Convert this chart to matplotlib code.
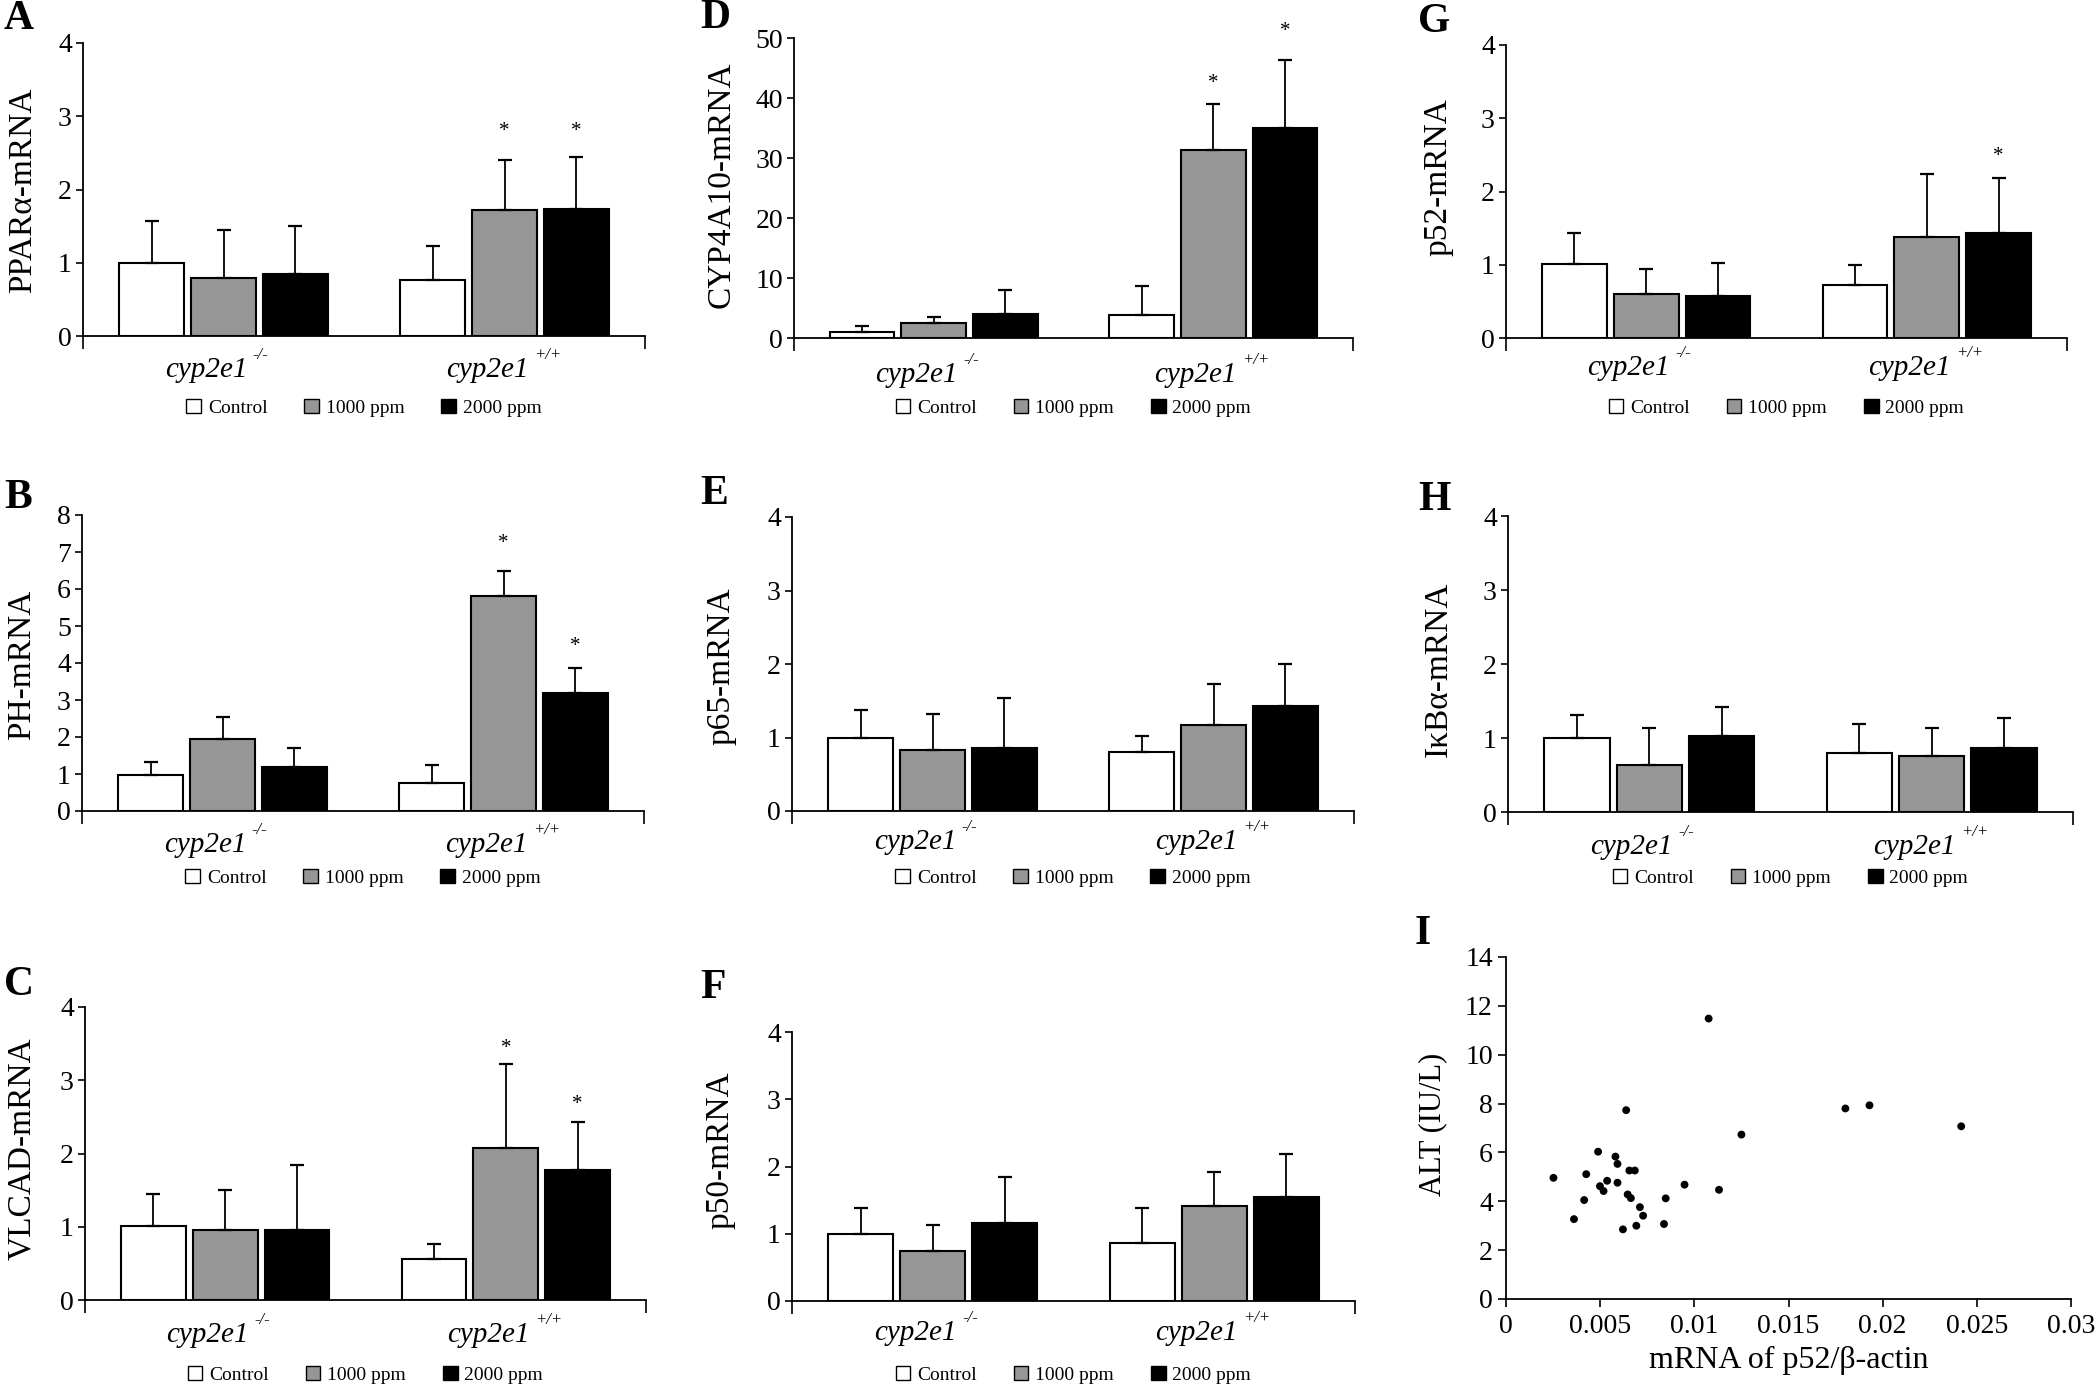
import numpy as np
import matplotlib.pyplot as plt
from matplotlib.patches import Patch

plt.rcParams['font.family'] = ['Liberation Serif', 'DejaVu Serif']

W, H = 2100, 1388

# ---- data (order: cyp2e1-/- Control, 1000, 2000, cyp2e1+/+ Control, 1000, 2000) ----
genotypes = ['-/-', '+/+']
treatments = ['Control', '1000 ppm', '2000 ppm']
bar_colors = ['white', '#969696', 'black']

ppara_mean = [1.00, 0.79, 0.84, 0.76, 1.72, 1.74]
ppara_top = [1.57, 1.45, 1.50, 1.23, 2.40, 2.44]
ppara_star = [None, None, None, None, 2.79, 2.79]

ph_mean = [0.98, 1.95, 1.18, 0.75, 5.81, 3.20]
ph_top = [1.32, 2.53, 1.71, 1.23, 6.50, 3.86]
ph_star = [None, None, None, None, 7.22, 4.44]

vlcad_mean = [1.01, 0.95, 0.95, 0.56, 2.08, 1.77]
vlcad_top = [1.45, 1.50, 1.84, 0.76, 3.22, 2.43]
vlcad_star = [None, None, None, None, 3.43, 2.67]

cyp4a10_mean = [1.00, 2.56, 4.06, 3.79, 31.35, 35.08]
cyp4a10_top = [1.95, 3.45, 7.96, 8.63, 38.98, 46.30]
cyp4a10_star = [None, None, None, None, 42.5, 51.0]

p65_mean = [1.00, 0.83, 0.86, 0.80, 1.17, 1.43]
p65_top = [1.38, 1.32, 1.54, 1.02, 1.73, 2.00]
p65_star = [None] * 6

p50_mean = [1.00, 0.75, 1.16, 0.86, 1.42, 1.55]
p50_top = [1.38, 1.13, 1.84, 1.39, 1.92, 2.18]
p50_star = [None] * 6

p52_mean = [1.01, 0.60, 0.58, 0.72, 1.38, 1.44]
p52_top = [1.43, 0.94, 1.02, 0.99, 2.24, 2.19]
p52_star = [None, None, None, None, None, 2.48]

ikba_mean = [1.00, 0.64, 1.03, 0.80, 0.76, 0.86]
ikba_top = [1.31, 1.14, 1.42, 1.19, 1.14, 1.27]
ikba_star = [None] * 6

# panel I scatter
p52_ratio = [0.00252, 0.00361, 0.00415, 0.00426, 0.00489, 0.00499, 0.00518, 0.00537,
             0.00581, 0.00592, 0.00592, 0.00638, 0.00621, 0.00646, 0.00655, 0.00663,
             0.00684, 0.00692, 0.00711, 0.00728, 0.00839, 0.00848, 0.00948, 0.01076,
             0.01131, 0.01250, 0.01802, 0.01930, 0.02417]
alt_iu = [4.96, 3.27, 4.05, 5.11, 6.03, 4.62, 4.42, 4.84,
          5.83, 5.53, 4.76, 7.73, 2.85, 4.28, 5.26, 4.13,
          5.26, 3.00, 3.76, 3.41, 3.07, 4.12, 4.68, 11.48,
          4.47, 6.73, 7.80, 7.93, 7.07]

# ---- layout helpers (pixel boxes: left, top, right, bottom) ----
fig = plt.figure(figsize=(W / 100, H / 100), dpi=100)


def px_axes(l, t, r, b):
    return fig.add_axes([l / W, 1 - b / H, (r - l) / W, (b - t) / H])


def px_text(x, y, s, **kw):
    fig.text(x / W, 1 - y / H, s, **kw)


def bar_panel(box, letter, letter_xy, ylabel, ylabel_xy, ymax, ystep,
              mean, top, star, cat_y, leg_y):
    l, t, r, b = box
    ax = px_axes(l, t, r, b)
    mean = np.array(mean).reshape(2, 3)
    top = np.array(top).reshape(2, 3)
    for j in range(3):
        xs = np.arange(2) + 0.5 + (j - 1) * 0.256
        ax.bar(xs, mean[:, j], width=0.231, color=bar_colors[j],
               edgecolor='black', linewidth=1.5, zorder=2)
        ax.errorbar(xs, mean[:, j], yerr=[np.zeros(2), top[:, j] - mean[:, j]],
                    fmt='none', ecolor='black', elinewidth=1.3, capsize=5,
                    capthick=1.6, zorder=3)
    for k, s in enumerate(star):
        if s is not None:
            g, j = divmod(k, 3)
            ax.text(g + 0.5 + (j - 1) * 0.256, s, '*', ha='center', va='center',
                    fontsize=15, clip_on=False)
    ax.set_xlim(0, 2)
    ax.set_ylim(0, ymax)
    ax.set_yticks(np.arange(0, ymax + ystep / 2, ystep))
    ax.set_xticks([0, 2])
    ax.set_xticklabels(['', ''])
    ax.tick_params(axis='y', direction='out', length=5, width=1.2, labelsize=20, pad=3)
    ax.tick_params(axis='x', direction='out', length=9, width=1.2)
    for sp in ['top', 'right']:
        ax.spines[sp].set_visible(False)
    for sp in ['left', 'bottom']:
        ax.spines[sp].set_linewidth(1.3)

    # genotype labels
    dy = (cat_y - b) * 0.72
    for g, gt in enumerate(genotypes):
        ax.annotate('cyp2e1', xy=(g + 0.5, 0), xycoords=('data', 'axes fraction'),
                    xytext=(17, -dy), textcoords='offset points', ha='right',
                    va='center', fontsize=21, style='italic', annotation_clip=False)
        ax.annotate(gt, xy=(g + 0.5, 0), xycoords=('data', 'axes fraction'),
                    xytext=(21, -dy + 11), textcoords='offset points', ha='left',
                    va='center', fontsize=12, style='italic', annotation_clip=False)

    handles = [Patch(facecolor=c, edgecolor='black', linewidth=1.0) for c in bar_colors]
    ax.legend(handles, treatments, loc='center', ncol=3, frameon=False,
              bbox_to_anchor=(0.5, 1 - (leg_y - t) / (b - t)), fontsize=14,
              handlelength=0.75, handleheight=0.75, handletextpad=0.35,
              columnspacing=1.9, borderpad=0, borderaxespad=0)

    px_text(letter_xy[0], letter_xy[1], letter, fontsize=30, fontweight='bold',
            ha='left', va='center')
    px_text(ylabel_xy[0], ylabel_xy[1], ylabel, fontsize=24, rotation=90,
            ha='center', va='center')
    return ax


bar_panel((83, 43, 645, 336), 'A', (4, 19), 'PPARα-mRNA', (23, 190), 4, 1,
          ppara_mean, ppara_top, ppara_star, 370, 408)
bar_panel((82, 515, 644, 811), 'B', (4, 498), 'PH-mRNA', (22, 665), 8, 1,
          ph_mean, ph_top, ph_star, 845, 878)
bar_panel((85, 1007, 646, 1300), 'C', (4, 985), 'VLCAD-mRNA', (22, 1149), 4, 1,
          vlcad_mean, vlcad_top, vlcad_star, 1335, 1375)
bar_panel((794, 38, 1353, 338), 'D', (700, 18), 'CYP4A10-mRNA', (721, 185), 50, 10,
          cyp4a10_mean, cyp4a10_top, cyp4a10_star, 375, 408)
bar_panel((792, 517, 1354, 811), 'E', (700, 494), 'p65-mRNA', (721, 666), 4, 1,
          p65_mean, p65_top, p65_star, 842, 878)
bar_panel((792, 1032, 1355, 1301), 'F', (700, 988), 'p50-mRNA', (720, 1150), 4, 1,
          p50_mean, p50_top, p50_star, 1333, 1375)
bar_panel((1506, 45, 2067, 338), 'G', (1418, 22), 'p52-mRNA', (1438, 177), 4, 1,
          p52_mean, p52_top, p52_star, 368, 408)
bar_panel((1508, 516, 2073, 812), 'H', (1418, 500), 'IκBα-mRNA', (1438, 669), 4, 1,
          ikba_mean, ikba_top, ikba_star, 847, 878)

# ---- panel I: scatter ----
axi = px_axes(1506, 957, 2071, 1299)
axi.scatter(p52_ratio, alt_iu, s=32, color='black', edgecolors='none', zorder=3)
axi.set_xlim(0, 0.03)
axi.set_ylim(0, 14)
axi.set_xticks(np.arange(0, 0.0301, 0.005))
axi.set_xticklabels(['0', '0.005', '0.01', '0.015', '0.02', '0.025', '0.03'])
axi.set_yticks(np.arange(0, 15, 2))
axi.tick_params(axis='both', direction='out', length=6, width=1.2, labelsize=20)
axi.tick_params(axis='x', pad=5)
for sp in ['top', 'right']:
    axi.spines[sp].set_visible(False)
for sp in ['left', 'bottom']:
    axi.spines[sp].set_linewidth(1.3)
axi.set_xlabel('mRNA of p52/β-actin', fontsize=23, labelpad=5)
px_text(1415, 934, 'I', fontsize=30, fontweight='bold', ha='left', va='center')
px_text(1433, 1124, 'ALT (IU/L)', fontsize=22, rotation=90, ha='center', va='center')

fig.savefig('out.png', dpi=100, facecolor='white')
